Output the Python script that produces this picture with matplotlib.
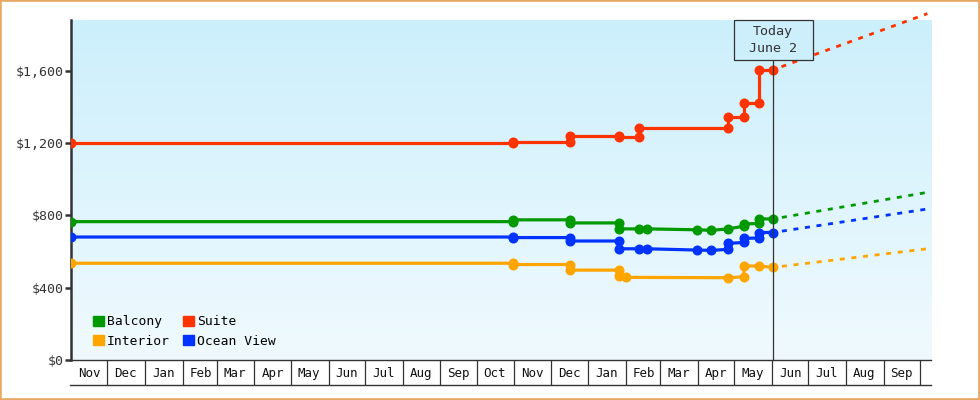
import numpy as np
import matplotlib
matplotlib.use("Agg")
import matplotlib.pyplot as plt
import matplotlib.dates as mdates
import matplotlib.transforms as mtrans
from matplotlib.patches import Patch, Rectangle
from matplotlib.lines import Line2D

plt.rcParams['font.family'] = ['DejaVu Sans Mono']

# ---- data ----
suite_dates = ['2012-11-01', '2013-10-31', '2013-10-31', '2013-12-17', '2013-12-17',
               '2014-01-26', '2014-01-26', '2014-02-12', '2014-02-12', '2014-04-26',
               '2014-04-26', '2014-05-09', '2014-05-09', '2014-05-21', '2014-05-21', '2014-06-02']
suite_vals = [1200, 1200, 1208, 1208, 1240, 1240, 1232, 1232, 1285, 1285,
              1345, 1345, 1420, 1420, 1605, 1605]

balcony_dates = ['2012-11-01', '2013-10-31', '2013-10-31', '2013-12-17', '2013-12-17',
                 '2014-01-26', '2014-01-26', '2014-02-12', '2014-02-18', '2014-03-31',
                 '2014-04-12', '2014-04-26', '2014-05-09', '2014-05-09', '2014-05-21',
                 '2014-05-21', '2014-06-02']
balcony_vals = [765, 765, 775, 775, 758, 758, 725, 725, 725, 720,
                717, 725, 740, 752, 755, 780, 780]

ocean_dates = ['2012-11-01', '2013-10-31', '2013-10-31', '2013-12-17', '2013-12-17',
               '2014-01-26', '2014-01-26', '2014-02-12', '2014-02-18', '2014-03-31',
               '2014-04-12', '2014-04-26', '2014-04-26', '2014-05-09', '2014-05-09',
               '2014-05-21', '2014-05-21', '2014-06-02']
ocean_vals = [680, 680, 677, 677, 658, 658, 615, 615, 615, 608,
              606, 612, 645, 650, 672, 675, 705, 705]

interior_dates = ['2012-11-01', '2013-10-31', '2013-10-31', '2013-12-17', '2013-12-17',
                  '2014-01-26', '2014-01-26', '2014-02-01', '2014-04-26', '2014-05-09',
                  '2014-05-09', '2014-05-21', '2014-06-02']
interior_vals = [535, 535, 528, 528, 497, 497, 465, 457, 455, 460,
                 520, 520, 512]

today = '2014-06-02'
proj_end = '2014-10-07'
proj_end_vals = {'Balcony': 927, 'Interior': 615, 'Suite': 1915, 'Ocean View': 835}

yticks = [0, 400, 800, 1200, 1600]

colors = {'Balcony': '#009900', 'Interior': '#ffa500', 'Suite': '#ff3300', 'Ocean View': '#0033ff'}

series = [
    ('Suite', suite_dates, suite_vals),
    ('Balcony', balcony_dates, balcony_vals),
    ('Interior', interior_dates, interior_vals),
    ('Ocean View', ocean_dates, ocean_vals),
]

# ---- figure ----
fig = plt.figure(figsize=(9.8, 4.0), dpi=100)
ax = fig.add_axes([71 / 980, 40 / 400, 860 / 980, 340 / 400])

x0 = np.datetime64('2012-11-01')
x1 = np.datetime64('2014-10-10')
ymax = 1880
ax.set_xlim(x0, x1)
ax.set_ylim(0, ymax)

# gradient background
grad = np.linspace(0, 1, 256).reshape(-1, 1)
top = np.array([0xcc, 0xef, 0xfc]) / 255
bot = np.array([0xf0, 0xfa, 0xfe]) / 255
img = top + (bot - top) * grad[:, :, None]
ax.imshow(img, extent=[mdates.date2num(x0), mdates.date2num(x1), 0, ymax],
          aspect='auto', zorder=0, origin='upper')

for name, d, v in series:
    dd = np.array(d, dtype='datetime64[D]')
    ax.plot(dd, v, color=colors[name], lw=2.3, marker='o', ms=6.2,
            solid_joinstyle='miter', zorder=3)
    # projection
    pd_ = np.array([today, proj_end], dtype='datetime64[D]')
    ax.plot(pd_, [v[-1], proj_end_vals[name]], color=colors[name], lw=2.0,
            linestyle=(1, (1.8, 2.4)), zorder=3, clip_on=False)

# today line & box
tday = np.datetime64(today)
tnum = mdates.date2num(tday)
ax.axvline(tday, ymin=0, ymax=(360 - 60) / 340, color='#333333', lw=0.9, zorder=4)
trans = mtrans.blended_transform_factory(ax.transData, ax.transAxes)
box_w = 79 / 1.2128  # days
ax.add_patch(Rectangle((tnum - box_w / 2, (360 - 60) / 340), box_w, 40 / 340,
                       transform=trans, fc='#cdeffc', ec='#333333', lw=0.9,
                       zorder=5, clip_on=False))
ax.text(tday, (360 - 40) / 340, 'Today\nJune 2', transform=trans, ha='center', va='center',
        fontsize=9.6, color='#333333', linespacing=1.3, zorder=6)

# axes styling
for s in ['top', 'right']:
    ax.spines[s].set_visible(False)
ax.spines['left'].set_color('#333333')
ax.spines['left'].set_linewidth(1.8)
ax.spines['bottom'].set_color('#333333')
ax.spines['bottom'].set_linewidth(1.0)

ax.set_yticks(yticks)
ax.set_yticklabels(['${:,}'.format(t) for t in yticks])
ax.tick_params(axis='y', length=4, width=1.8, color='#333333', labelcolor='#333333',
               labelsize=9.5, pad=1.5)

# month cells on x axis
ax.xaxis.set_major_locator(mdates.MonthLocator())
ax.xaxis.set_major_formatter(plt.NullFormatter())
ax.xaxis.set_minor_locator(mdates.MonthLocator(bymonthday=16))
ax.xaxis.set_minor_formatter(mdates.DateFormatter('%b'))
ax.tick_params(axis='x', which='major', length=18, width=0.9, color='#333333')
ax.tick_params(axis='x', which='minor', length=0, pad=5, labelsize=9, labelcolor='#111111')
# hide the tick that sits on the left spine
ax.xaxis.get_major_ticks()[0].tick1line.set_visible(False)

fig.add_artist(Line2D([70 / 980, 931 / 980], [15 / 400, 15 / 400], color='#333333', lw=1.0))

# legend
handles = [Patch(color=colors[n]) for n in ['Balcony', 'Interior', 'Suite', 'Ocean View']]
ax.legend(handles, ['Balcony', 'Interior', 'Suite', 'Ocean View'], ncol=2, loc='lower left',
          bbox_to_anchor=(0.026, 0.036), frameon=False, fontsize=9.4,
          handlelength=0.85, handleheight=0.85, handletextpad=0.2,
          columnspacing=1.0, labelspacing=0.5, borderpad=0, borderaxespad=0)

# orange border
fig.add_artist(Rectangle((0, 0), 1, 1, transform=fig.transFigure, fill=False,
                         ec='#e8a862', lw=2.6))

fig.savefig('out.png', dpi=100, facecolor='white')
